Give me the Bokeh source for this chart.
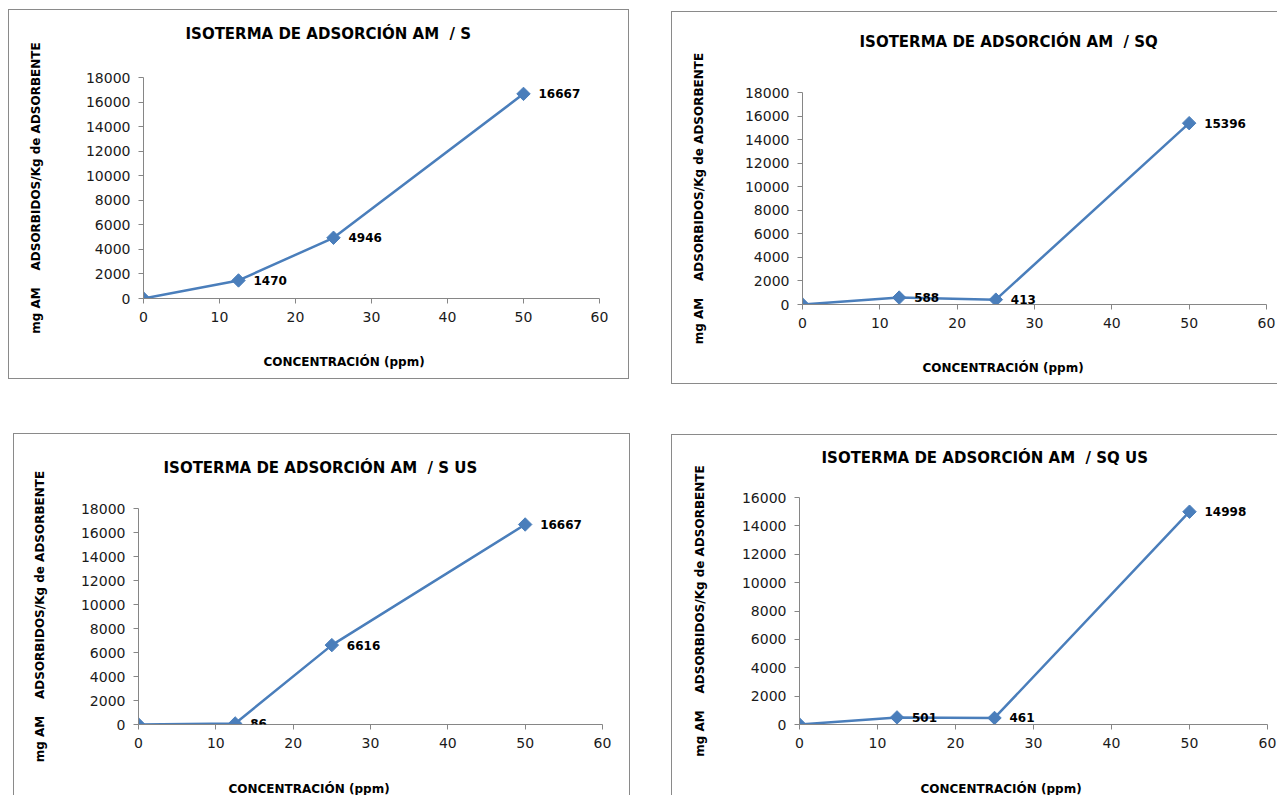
import numpy as np
from bokeh.plotting import figure
from bokeh.models import Range1d, FixedTicker, Title, LabelSet, ColumnDataSource, Spacer
from bokeh.layouts import row, column
from bokeh.embed import file_html
from bokeh.resources import INLINE
from bokeh.core.properties import value

# ---------------- data ----------------
concentracion = [0, 12.5, 25, 50]
ads_s = [0, 1470, 4946, 16667]
ads_sq = [0, 588, 413, 15396]
ads_s_us = [0, 86, 6616, 16667]
ads_sq_us = [0, 501, 461, 14998]

titles = [
    "ISOTERMA DE ADSORCIÓN AM\u00a0\u00a0/ S",
    "ISOTERMA DE ADSORCIÓN AM\u00a0\u00a0/ SQ",
    "ISOTERMA DE ADSORCIÓN AM\u00a0\u00a0/ S US",
    "ISOTERMA DE ADSORCIÓN AM\u00a0\u00a0/ SQ US",
]
y_title = "mg AM\u00a0\u00a0\u00a0\u00a0ADSORBIDOS/Kg de ADSORBENTE"
x_title = "CONCENTRACIÓN (ppm)"
x_ticks = [0, 10, 20, 30, 40, 50, 60]
y_ticks_18 = [0, 2000, 4000, 6000, 8000, 10000, 12000, 14000, 16000, 18000]
y_ticks_16 = [0, 2000, 4000, 6000, 8000, 10000, 12000, 14000, 16000]

BLUE = "#4a7ebb"
AXIS = "#868686"
FONT = "DejaVu Sans"


def ttl(p, side, text, size, align, offset, standoff, bold=True):
    p.add_layout(Title(text=text, align=align, offset=offset, standoff=standoff,
                       text_font=FONT, text_font_size=size,
                       text_font_style="bold" if bold else "normal",
                       text_color="black"), side)


def gap(p, side, standoff):
    # empty title used only as a spacer between the axis/frame and the real title
    ttl(p, side, "\u00a0", "10px", "left", 0, standoff, bold=False)


def panel(title, yvals, ymax, yticks, w, h, ml, mr, mt, mb, lay, border):
    p = figure(width=w, height=h, output_backend="svg", toolbar_location=None,
               x_range=Range1d(0, 60), y_range=Range1d(0, ymax),
               min_border_left=ml, min_border_right=mr, min_border_top=mt, min_border_bottom=mb,
               background_fill_color="white", border_fill_color="white",
               styles=border)
    p.outline_line_color = None
    p.grid.visible = False
    for ax in (p.xaxis[0], p.yaxis[0]):
        ax.axis_line_color = AXIS
        ax.major_tick_line_color = AXIS
        ax.minor_tick_line_color = None
        ax.major_tick_out = 5
        ax.major_tick_in = 0
        ax.major_label_text_font = FONT
        ax.major_label_text_font_size = "14px"
        ax.major_label_text_color = "#1a1a1a"
        ax.major_label_standoff = 8
    p.xaxis[0].ticker = FixedTicker(ticks=x_ticks)
    p.yaxis[0].ticker = FixedTicker(ticks=yticks)

    src = ColumnDataSource(dict(x=concentracion, y=yvals))
    p.line("x", "y", source=src, line_color=BLUE, line_width=2.5)
    p.scatter("x", "y", source=src, marker="square", size=9.5, angle=np.pi / 4,
              fill_color=BLUE, line_color=BLUE)

    lsrc = ColumnDataSource(dict(x=concentracion[1:], y=yvals[1:],
                                 t=[str(v) for v in yvals[1:]]))
    p.add_layout(LabelSet(x="x", y="y", text="t", source=lsrc, x_offset=15,
                          text_font=value(FONT), text_font_style="bold",
                          text_font_size=value("12px"), text_color="black",
                          text_baseline="middle", text_align="left"))

    t_off, t_gap, y_gap, x_off, x_gap = lay
    gap(p, "above", t_gap)
    ttl(p, "above", title, "15px", "left", t_off, 0)
    gap(p, "left", y_gap)
    ttl(p, "left", y_title, "12px", "center", 0, 0)
    gap(p, "below", x_gap)
    ttl(p, "below", x_title, "12px", "left", x_off, 0)
    return p


B = "1px solid #8a8a8a"
p1 = panel(titles[0], ads_s, 18000, y_ticks_18, 621, 370, 134, 31, 67, 82,
           (42, 22, 27, 120, 15),
           {"border": B, "box-sizing": "border-box"})
p2 = panel(titles[1], ads_sq, 18000, y_ticks_18, 606, 373, 130, 12, 80, 81,
           (57, 29, 23, 120, 15),
           {"border-top": B, "border-left": B, "border-bottom": B, "box-sizing": "border-box"})
p3 = panel(titles[2], ads_s_us, 18000, y_ticks_18, 617, 362, 124, 29, 74, 72,
           (25, 19, 18, 90, 16),
           {"border-top": B, "border-left": B, "border-right": B, "box-sizing": "border-box"})
p4 = panel(titles[3], ads_sq_us, 16000, y_ticks_16, 606, 361, 127, 11, 62, 72,
           (22, 18, 19, 121, 16),
           {"border-top": B, "border-left": B, "box-sizing": "border-box"})

top = row(column(Spacer(height=1), p1), Spacer(width=42), column(Spacer(height=3), p2))
bottom = row(Spacer(width=5), p3, Spacer(width=41), column(Spacer(height=1), p4))
body = column(top, Spacer(height=49), bottom)
layout = row(Spacer(width=8), column(Spacer(height=8), body))

open("out.html", "w").write(file_html(layout, INLINE))
